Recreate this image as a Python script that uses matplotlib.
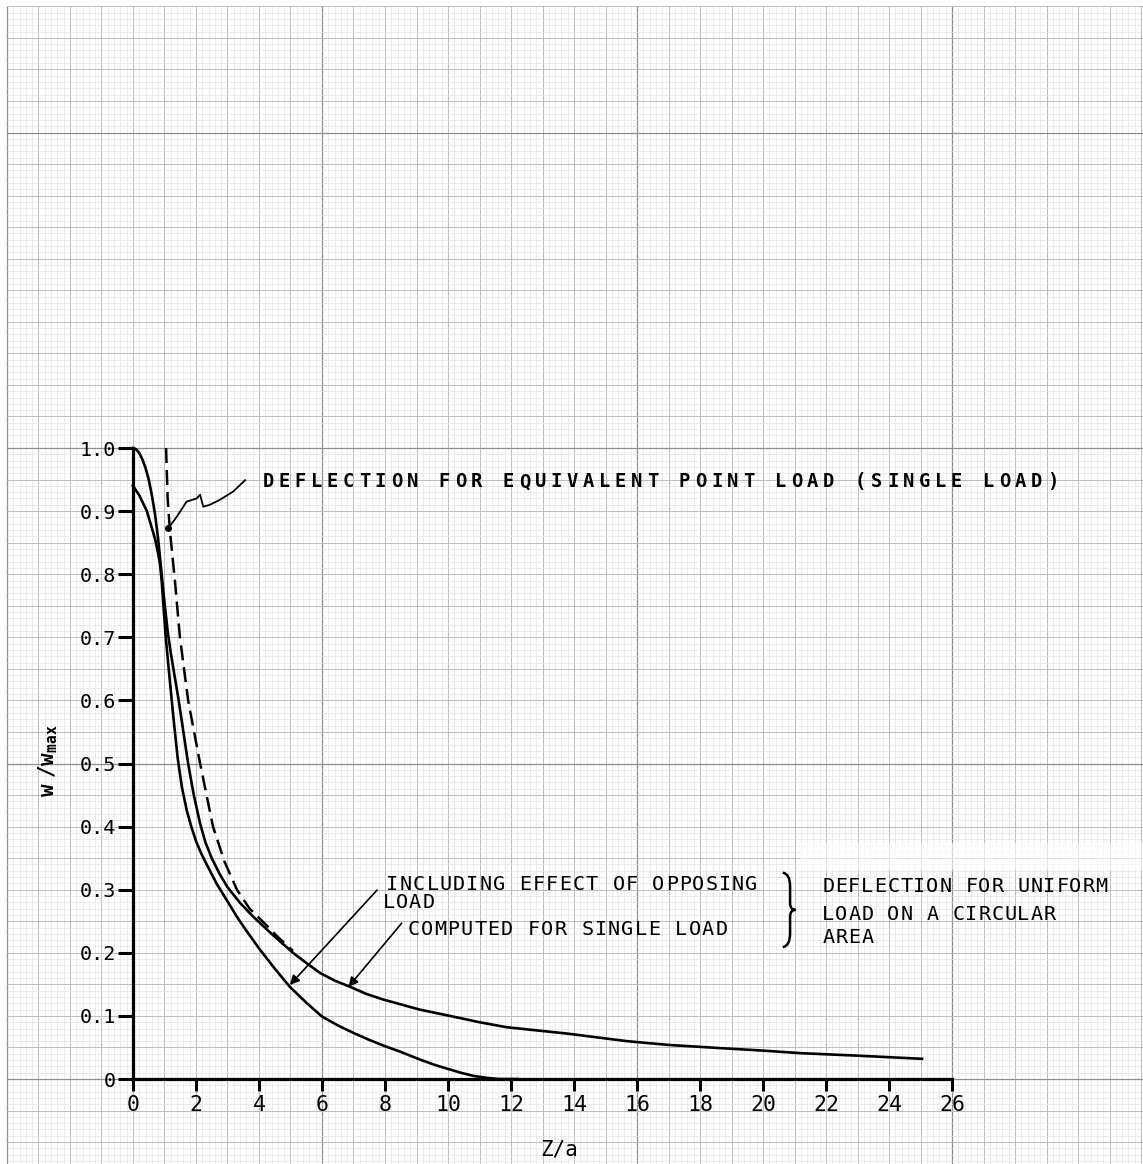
import numpy as np
import matplotlib
matplotlib.use("Agg")
import matplotlib.pyplot as plt
from matplotlib.path import Path
from matplotlib.patches import PathPatch, Rectangle

# data
single_x = [0, 0.1, 0.2, 0.3, 0.4, 0.5, 0.6, 0.7, 0.8, 0.9, 1.0, 1.1, 1.2, 1.3, 1.45, 1.6,
            1.75, 1.93, 2.13, 2.3, 2.5, 2.75, 3.0, 3.4, 3.8, 4.4, 5.08, 5.5, 5.94, 6.4, 6.9,
            7.4, 7.94, 9.1, 10.06, 11.0, 11.87, 13.78, 15.68, 17.0, 18.63, 20.0, 21.17,
            23.0, 25.05]
single_y = [1.0, 0.998, 0.992, 0.982, 0.968, 0.95, 0.925, 0.895, 0.855, 0.805, 0.755, 0.71,
            0.675, 0.645, 0.60, 0.55, 0.50, 0.45, 0.405, 0.375, 0.35, 0.325, 0.304, 0.279,
            0.258, 0.23, 0.20, 0.184, 0.168, 0.156, 0.146, 0.135, 0.126, 0.11, 0.10, 0.09,
            0.082, 0.072, 0.06, 0.054, 0.049, 0.045, 0.041, 0.037, 0.032]

opposing_x = [0, 0.2, 0.44, 0.7, 0.8, 0.86, 0.91, 0.96, 1.04, 1.13, 1.23, 1.32, 1.42, 1.55,
              1.71, 1.85, 2.0, 2.17, 2.34, 2.65, 2.97, 3.3, 3.6, 4.0, 4.5, 4.98, 5.5, 6.0,
              6.5, 7.0, 7.5, 8.0, 8.5, 9.1, 9.6, 10.0, 10.4, 10.8, 11.2, 11.6, 12.2]
opposing_y = [0.94, 0.925, 0.90, 0.856, 0.832, 0.815, 0.79, 0.755, 0.70, 0.652, 0.60, 0.555,
              0.508, 0.463, 0.425, 0.40, 0.377, 0.357, 0.34, 0.31, 0.284, 0.257, 0.235, 0.207,
              0.175, 0.146, 0.121, 0.099, 0.085, 0.073, 0.062, 0.052, 0.043, 0.031, 0.022,
              0.016, 0.010, 0.005, 0.002, 0.0, 0.0]

point_x = [1.05, 1.1, 1.17, 1.33, 1.49, 1.75, 2.13, 2.54, 2.9, 3.3, 3.7, 4.25, 4.6, 5.08]
point_y = [1.0, 0.92, 0.87, 0.79, 0.70, 0.60, 0.50, 0.40, 0.345, 0.30, 0.27, 0.243, 0.225, 0.203]

x_ticks = list(range(0, 27, 2))
y_ticks = [0, 0.1, 0.2, 0.3, 0.4, 0.5, 0.6, 0.7, 0.8, 0.9, 1.0]
y_tick_labels = ['0', '0.1', '0.2', '0.3', '0.4', '0.5', '0.6', '0.7', '0.8', '0.9', '1.0']

MONO = 'DejaVu Sans Mono'

fig = plt.figure(figsize=(11.43, 11.64), dpi=100)
ax = fig.add_axes([0, 0, 1, 1])
ax.set_xlim(-4.222, 32.063)
ax.set_ylim(-0.1347, 1.7100)

# graph paper
top = 1.70
left = -4.0
for i in range(-20, 161):
    x = i * 0.2
    if i % 50 == 30:
        c, lw = '#8e8e8e', 0.9
    elif i % 5 == 0:
        c, lw = '#bcbcbc', 0.7
    else:
        c, lw = '#e2e2e2', 0.45
    ax.vlines(x, -0.1347, top, colors=c, lw=lw, zorder=0)
for j in range(-13, 171):
    y = j * 0.01
    if j % 50 == 0:
        c, lw = '#8e8e8e', 0.9
    elif j % 5 == 0:
        c, lw = '#bcbcbc', 0.7
    else:
        c, lw = '#e2e2e2', 0.45
    ax.hlines(y, left, 32.063, colors=c, lw=lw, zorder=0)

# whited-out patch where old text was pasted over
ax.add_patch(Rectangle((21.17, 0.331), 10.9, 0.043, facecolor='white', alpha=0.6,
                       edgecolor='none', zorder=1))

# axes
for s in ['top', 'right']:
    ax.spines[s].set_visible(False)
ax.spines['left'].set_position(('data', 0))
ax.spines['bottom'].set_position(('data', 0))
ax.spines['left'].set_bounds(0, 1.0)
ax.spines['bottom'].set_bounds(0, 26)
for s in ['left', 'bottom']:
    ax.spines[s].set_linewidth(2.3)
    ax.spines[s].set_zorder(4)
ax.set_xticks(x_ticks)
ax.set_xticklabels([str(t) for t in x_ticks], fontfamily=MONO, fontsize=15.5)
ax.set_yticks(y_ticks)
ax.set_yticklabels(y_tick_labels, fontfamily=MONO, fontsize=14.5)
ax.tick_params(axis='x', direction='out', length=8.5, width=2.2, pad=3)
ax.tick_params(axis='y', direction='out', length=11, width=2.2, pad=1)
ax.patch.set_alpha(0)

# curves
ax.plot(single_x, single_y, color='black', lw=1.9, zorder=3, solid_joinstyle='round')
ax.plot(opposing_x, opposing_y, color='black', lw=1.9, zorder=3, solid_joinstyle='round')
ax.plot(point_x, point_y, color='black', lw=1.8, ls=(0, (6, 2.8)), zorder=3)


def typed(x0, y, s, pitch, size, weight='normal'):
    # typewriter text at a fixed pitch (data units)
    for k, ch in enumerate(s):
        if ch != ' ':
            ax.text(x0 + k * pitch, y, ch, ha='center', va='baseline', fontsize=size,
                    fontfamily=MONO, fontweight=weight, zorder=5)


typed(4.30, 0.938, 'DEFLECTION FOR EQUIVALENT POINT LOAD (SINGLE LOAD)', 0.508, 13.5, 'bold')
typed(8.24, 0.2995, 'INCLUDING EFFECT OF OPPOSING', 0.422, 14.5)
typed(8.11, 0.271, 'LOAD', 0.422, 14.5)
typed(8.90, 0.2282, 'COMPUTED FOR SINGLE LOAD', 0.425, 14.5)
typed(22.07, 0.2964, 'DEFLECTION FOR UNIFORM', 0.413, 14.5)
typed(22.07, 0.252, 'LOAD ON A CIRCULAR', 0.413, 14.5)
typed(22.07, 0.2155, 'AREA', 0.413, 14.5)

# wavy pointer to the dashed curve
wig_x = [1.12, 1.39, 1.70, 2.02, 2.13, 2.23, 2.44, 2.76, 3.18, 3.56]
wig_y = [0.873, 0.891, 0.915, 0.920, 0.926, 0.907, 0.910, 0.918, 0.931, 0.949]
ax.plot(wig_x, wig_y, color='black', lw=1.3, zorder=3)
ax.plot([1.12], [0.873], 'o', color='black', ms=4, zorder=3)

# arrows to the two curves
ax.annotate('', xy=(4.98, 0.149), xytext=(7.75, 0.2995),
            arrowprops=dict(arrowstyle='-|>', color='black', lw=1.2, mutation_scale=14,
                            shrinkA=0, shrinkB=0), zorder=5)
ax.annotate('', xy=(6.84, 0.146), xytext=(8.53, 0.247),
            arrowprops=dict(arrowstyle='-|>', color='black', lw=1.2, mutation_scale=14,
                            shrinkA=0, shrinkB=0), zorder=5)

# brace
verts = [(20.63, 0.327), (20.86, 0.325), (20.86, 0.305), (20.86, 0.279),
         (20.86, 0.268), (21.03, 0.268), (20.86, 0.268), (20.86, 0.257),
         (20.86, 0.231), (20.86, 0.211), (20.63, 0.209)]
codes = [Path.MOVETO, Path.CURVE3, Path.CURVE3, Path.LINETO,
         Path.CURVE3, Path.CURVE3, Path.CURVE3, Path.CURVE3,
         Path.LINETO, Path.CURVE3, Path.CURVE3]
ax.add_patch(PathPatch(Path(verts, codes), facecolor='none', edgecolor='black', lw=1.8, zorder=5))

# axis titles
ax.text(13.52, -0.1125, 'Z/a', ha='center', va='center', fontsize=15, fontfamily=MONO)
ax.text(-2.7, 0.504, r'$\mathregular{w\ /w_{max}}$', rotation=90, ha='center', va='center',
        fontsize=15, fontfamily=MONO, fontweight='bold')

fig.savefig('out.png', dpi=100, facecolor='white')
